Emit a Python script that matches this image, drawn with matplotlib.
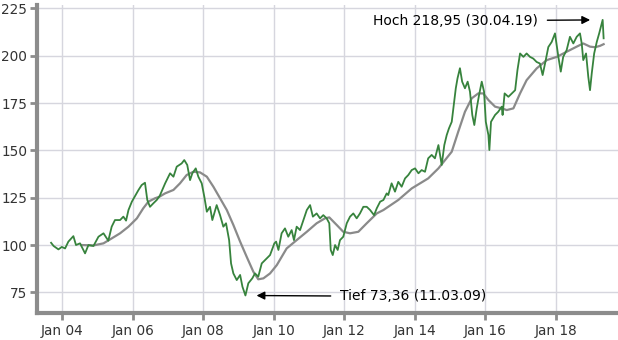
import matplotlib
matplotlib.use("Agg")
import matplotlib.pyplot as plt
import matplotlib.dates as mdates
import pandas as pd

# Kursverlauf (ca. monatlich)
price_dates = [
    "2003-09-05", "2003-10-01", "2003-11-20", "2003-12-25", "2004-01-28", "2004-03-02",
    "2004-04-23", "2004-05-20", "2004-07-01", "2004-08-22", "2004-09-26", "2004-11-17",
    "2005-01-08", "2005-03-01", "2005-04-20", "2005-05-25", "2005-06-28", "2005-08-20",
    "2005-09-23", "2005-10-21", "2005-11-15", "2005-12-20", "2006-01-23", "2006-02-27",
    "2006-04-01", "2006-05-05", "2006-05-29", "2006-06-26", "2006-07-30", "2006-09-04",
    "2006-10-05", "2006-11-30", "2007-01-20", "2007-02-24", "2007-03-30", "2007-05-20",
    "2007-06-16", "2007-07-17", "2007-08-15", "2007-09-08", "2007-10-13", "2007-11-09",
    "2007-12-14", "2008-01-10", "2008-02-05", "2008-03-09", "2008-04-02", "2008-05-17",
    "2008-06-21", "2008-07-25", "2008-08-22", "2008-09-23", "2008-10-13", "2008-11-06",
    "2008-12-11", "2009-01-15", "2009-02-08", "2009-03-11", "2009-04-10", "2009-05-21",
    "2009-06-18", "2009-07-22", "2009-08-27", "2009-10-18", "2009-11-21", "2010-01-05",
    "2010-01-23", "2010-02-16", "2010-03-21", "2010-04-25", "2010-05-29", "2010-07-03",
    "2010-07-27", "2010-08-24", "2010-09-28", "2010-11-02", "2010-12-07", "2011-01-10",
    "2011-02-08", "2011-03-19", "2011-04-23", "2011-05-27", "2011-07-01", "2011-07-28",
    "2011-08-12", "2011-09-02", "2011-09-26", "2011-10-23", "2011-11-16", "2011-12-20",
    "2012-01-25", "2012-02-28", "2012-04-02", "2012-05-07", "2012-06-10", "2012-07-15",
    "2012-08-19", "2012-09-23", "2012-11-03", "2012-12-01", "2013-01-05", "2013-02-08",
    "2013-03-14", "2013-03-30", "2013-05-04", "2013-06-08", "2013-07-12", "2013-08-16",
    "2013-09-20", "2013-10-24", "2013-11-28", "2014-01-02", "2014-02-06", "2014-03-11",
    "2014-04-15", "2014-05-18", "2014-06-23", "2014-07-27", "2014-09-01", "2014-10-05",
    "2014-11-01", "2014-11-26", "2014-12-19", "2015-01-17", "2015-02-03", "2015-02-28",
    "2015-03-18", "2015-04-12", "2015-05-05", "2015-06-03", "2015-07-01", "2015-07-25",
    "2015-08-18", "2015-09-08", "2015-10-03", "2015-10-27", "2015-11-24", "2015-12-18",
    "2016-01-05", "2016-02-01", "2016-02-11", "2016-02-28", "2016-04-10", "2016-05-13",
    "2016-06-18", "2016-06-27", "2016-07-18", "2016-08-26", "2016-10-01", "2016-11-04",
    "2016-11-28", "2016-12-25", "2017-01-29", "2017-03-03", "2017-04-07", "2017-05-11",
    "2017-06-15", "2017-07-19", "2017-08-16", "2017-09-10", "2017-10-14", "2017-11-18",
    "2017-12-22", "2018-01-26", "2018-02-20", "2018-03-17", "2018-04-22", "2018-05-26",
    "2018-06-30", "2018-08-04", "2018-09-07", "2018-09-25", "2018-10-11", "2018-11-09",
    "2018-12-02", "2018-12-20", "2019-01-07", "2019-02-01", "2019-02-28", "2019-03-25",
    "2019-04-30", "2019-05-06", "2019-05-10",
]
price_values = [
    101.2, 99.5, 97.7, 99.0, 98.2, 101.8,
    104.7, 100.0, 100.9, 95.6, 100.0, 99.5,
    104.4, 106.2, 102.3, 109.7, 113.2, 113.2,
    115.0, 112.9, 118.5, 122.9, 125.9, 129.1,
    131.7, 132.9, 123.8, 120.2, 122.0, 123.8,
    126.0, 132.6, 137.9, 136.1, 141.4, 143.1,
    144.9, 142.3, 134.3, 137.9, 140.5, 136.1,
    132.6, 125.5, 117.6, 120.2, 113.2, 121.1,
    115.8, 109.7, 111.5, 102.6, 90.3, 85.0,
    81.5, 84.2, 78.0, 73.36, 79.8, 82.4,
    85.0, 83.3, 90.3, 93.0, 94.7, 100.9,
    101.8, 97.4, 106.2, 108.8, 104.4, 107.9,
    102.6, 109.7, 107.9, 113.2, 118.5, 121.1,
    115.0, 116.7, 114.1, 115.8, 114.1, 111.5,
    97.4, 94.7, 100.0, 97.4, 102.6, 104.4,
    111.5, 115.0, 116.7, 114.1, 116.7, 120.2,
    120.2, 118.5, 115.8, 119.4, 122.9, 123.8,
    127.3, 126.4, 132.6, 128.2, 133.4, 130.8,
    135.2, 137.0, 139.6, 140.5, 137.9, 139.6,
    138.7, 145.8, 147.6, 145.8, 152.8, 142.3,
    152.8, 158.1, 161.6, 165.1, 172.2, 182.8,
    188.1, 193.4, 186.3, 182.8, 186.3, 181.0,
    168.7, 163.4, 172.2, 179.2, 186.3, 181.0,
    165.1, 158.1, 150.2, 165.1, 168.7, 170.4,
    173.1, 168.7, 180.1, 178.3, 180.1, 181.8,
    192.4, 201.2, 199.4, 201.2, 199.4, 198.5,
    196.7, 195.9, 189.8, 195.9, 204.6, 207.3,
    211.8, 199.4, 191.6, 199.4, 203.0, 210.0,
    206.5, 210.0, 211.8, 206.5, 197.7, 201.2,
    188.9, 181.8, 190.7, 201.2, 207.3, 211.8,
    218.95, 213.6, 209.2,
]

# gleitender Durchschnitt
ma_dates = [
    "2004-07-18", "2004-11-17", "2005-03-01", "2005-05-25", "2005-08-20", "2005-11-15",
    "2006-02-10", "2006-04-17", "2006-06-09", "2006-08-17", "2006-10-01", "2006-11-30",
    "2007-02-24", "2007-05-03", "2007-07-11", "2007-09-18", "2007-11-26", "2008-02-05",
    "2008-04-13", "2008-06-21", "2008-08-30", "2008-11-06", "2009-01-15", "2009-03-24",
    "2009-06-01", "2009-07-22", "2009-09-13", "2009-11-21", "2010-01-30", "2010-05-12",
    "2010-08-24", "2010-12-07", "2011-03-19", "2011-06-13", "2011-07-28", "2011-10-13",
    "2011-12-20", "2012-02-28", "2012-05-24", "2012-08-19", "2012-12-01", "2013-02-08",
    "2013-04-10", "2013-07-12", "2013-11-28", "2014-05-18", "2014-09-01", "2015-01-17",
    "2015-03-25", "2015-06-03", "2015-08-12", "2015-10-19", "2015-12-10", "2016-02-01",
    "2016-04-10", "2016-06-18", "2016-08-09", "2016-10-17", "2016-12-25", "2017-03-03",
    "2017-06-15", "2017-09-28", "2018-01-10", "2018-04-22", "2018-08-04", "2018-10-11",
    "2018-12-20", "2019-02-10", "2019-04-02", "2019-05-10",
]
ma_values = [
    100.0, 99.8, 100.9, 103.5, 106.2, 109.7,
    114.1, 119.4, 122.9, 124.7, 125.5, 127.3,
    129.1, 132.6, 137.0, 138.7, 138.4, 136.1,
    130.8, 124.7, 118.5, 110.6, 101.8, 93.8,
    85.9, 81.9, 82.4, 85.0, 89.4, 98.2,
    102.6, 107.0, 111.5, 114.1, 114.6, 110.6,
    107.0, 106.2, 107.0, 111.5, 116.7, 118.5,
    120.6, 123.8, 129.9, 135.2, 140.5, 149.3,
    159.8, 170.4, 177.5, 180.1, 180.1, 176.6,
    173.1, 172.2, 171.3, 172.2, 180.1, 187.1,
    193.3, 197.7, 199.4, 202.1, 204.8, 206.5,
    204.8, 204.5, 205.2, 206.1,
]

y_ticks = [75, 100, 125, 150, 175, 200, 225]

high_date, high_value, high_label = "2019-04-30", 218.95, "Hoch 218,95 (30.04.19)"
low_date, low_value, low_label = "2009-03-11", 73.36, "Tief 73,36 (11.03.09)"

plt.rcParams['font.family'] = ['DejaVu Sans']

fig = plt.figure(figsize=(6.18, 3.4), dpi=100)
ax = fig.add_axes([37 / 618, 1 - 313 / 340, 1 - 37 / 618, 308 / 340])

ax.plot(pd.to_datetime(ma_dates), ma_values, color="#8a8a8a", lw=1.6, zorder=2)
ax.plot(pd.to_datetime(price_dates), price_values, color="#37833d", lw=1.3, zorder=3)

ax.set_xlim(pd.Timestamp("2003-04-12"), pd.Timestamp("2019-10-06"))
ax.set_ylim(64.1, 226.8)
ax.set_yticks(y_ticks)
ax.xaxis.set_major_locator(mdates.YearLocator(2))
ax.xaxis.set_major_formatter(mdates.DateFormatter("%b %y"))

ax.grid(True, color="#d6d6de", lw=1)
ax.set_axisbelow(True)
for s in ["top", "right"]:
    ax.spines[s].set_visible(False)
for s in ["left", "bottom"]:
    ax.spines[s].set_color("#8c8c8c")
    ax.spines[s].set_linewidth(3)
ax.tick_params(axis="both", colors="#8c8c8c", labelcolor="#333333",
               length=5, width=2, labelsize=9.8)
ax.tick_params(axis="y", pad=2)
ax.tick_params(axis="x", pad=3)

arrow = dict(arrowstyle="-|>", color="black", lw=1, mutation_scale=12)
ax.annotate(high_label, xy=(pd.Timestamp(high_date), high_value),
            xytext=(-65, -1), textcoords="offset pixels", ha="right", va="center",
            fontsize=10, color="black",
            arrowprops=dict(arrow, shrinkA=5, shrinkB=9))
ax.annotate(low_label, xy=(pd.Timestamp(low_date), low_value),
            xytext=(95, -1), textcoords="offset pixels", ha="left", va="center",
            fontsize=10, color="black",
            arrowprops=dict(arrow, shrinkA=5, shrinkB=8))

fig.savefig("out.png", dpi=100)
